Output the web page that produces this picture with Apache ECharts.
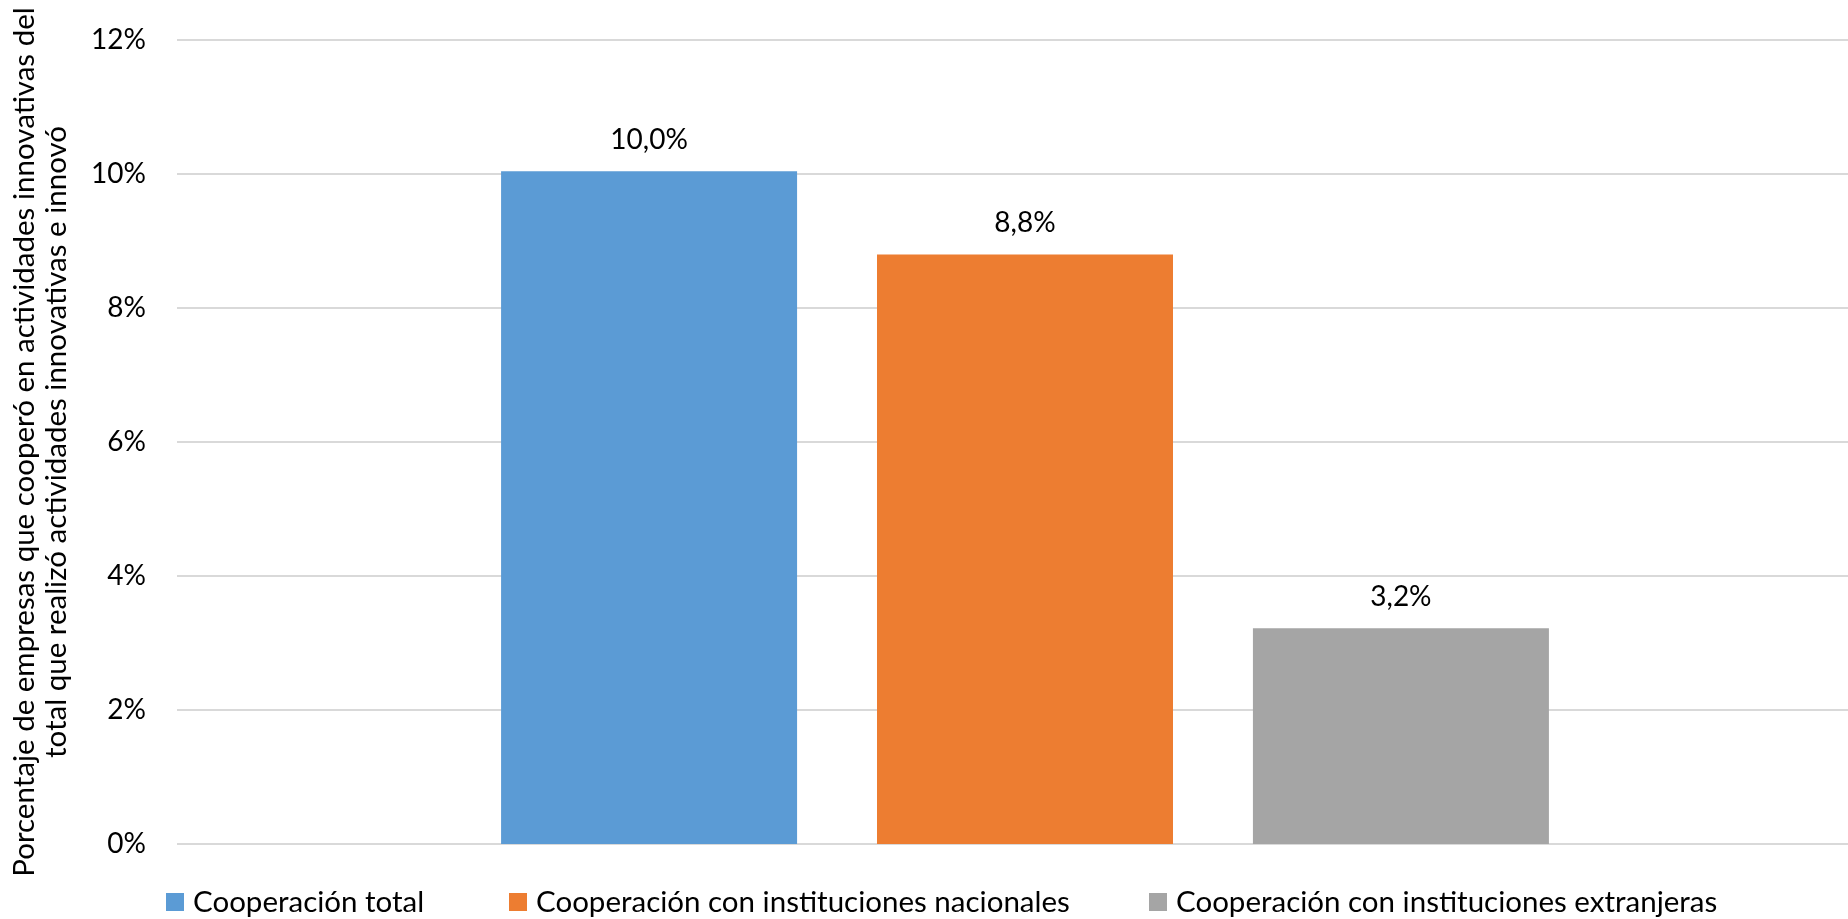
<!DOCTYPE html>
<html>
<head>
<meta charset="utf-8">
<title>Cooperación en actividades innovativas</title>
<script src="https://cdn.jsdelivr.net/npm/echarts@6/dist/echarts.min.js"></script>
<style>
  html, body { margin: 0; padding: 0; background: #ffffff; }
  #chart { width: 1848px; height: 919px; }
</style>
</head>
<body>
<div id="chart"></div>
<script>
// Share of firms that cooperated in innovative activities (percent)
const seriesNames = [
  'Cooperación total',
  'Cooperación con instituciones nacionales',
  'Cooperación con instituciones extranjeras'
];
const seriesValues = [10.04, 8.8, 3.22];
const seriesColors = ['#5B9BD5', '#ED7D31', '#A5A5A5'];
const categories = [''];
const yTicks = { min: 0, max: 12, step: 2 };
const yAxisTitle = 'Porcentaje de empresas que cooperó en actividades innovativas del\ntotal que realizó actividades innovativas e innovó';

// left edge of each legend entry
const legendLefts = [166, 509, 1149];

const FONT = 'Lato, "Open Sans", sans-serif';
const fmtPct = v => v.toFixed(1).replace('.', ',') + '%';

const chart = echarts.init(document.getElementById('chart'), null, { renderer: 'canvas' });

const series = seriesNames.map((name, i) => ({
  name: name,
  type: 'bar',
  data: [seriesValues[i]],
  barWidth: 296,
  barGap: '27%',
  itemStyle: { color: seriesColors[i] },
  label: {
    show: true,
    position: 'top',
    distance: 17,
    color: '#000000',
    fontFamily: FONT,
    fontSize: 28,
    formatter: p => fmtPct(p.value)
  }
}));

const legends = seriesNames.map((name, i) => ({
  left: legendLefts[i],
  top: 887,
  padding: 0,
  itemWidth: 18,
  itemHeight: 18,
  icon: 'rect',
  textStyle: { fontFamily: FONT, fontSize: 29.5, color: '#000000', padding: [0, 0, 0, 4] },
  data: [name]
}));

chart.setOption({
  animation: false,
  backgroundColor: '#ffffff',
  grid: {
    left: 177, top: 40, width: 1696, bottom: 75,
    containLabel: false,
    outerBoundsMode: 'none'
  },
  legend: legends,
  xAxis: {
    type: 'category',
    data: categories,
    axisLine: { show: false },
    axisTick: { show: false },
    axisLabel: { show: false }
  },
  yAxis: {
    type: 'value',
    min: yTicks.min,
    max: yTicks.max,
    interval: yTicks.step,
    axisLine: { show: false },
    axisTick: { show: false },
    axisLabel: {
      formatter: '{value}%',
      margin: 31,
      color: '#000000',
      fontFamily: FONT,
      fontSize: 28
    },
    splitLine: { lineStyle: { color: '#d9d9d9', width: 2 } },
    name: yAxisTitle,
    nameLocation: 'middle',
    nameRotate: 90,
    nameGap: 105,
    nameTextStyle: {
      fontFamily: FONT,
      fontSize: 29.5,
      lineHeight: 32,
      color: '#000000',
      align: 'center'
    }
  },
  series: series
});
</script>
</body>
</html>
